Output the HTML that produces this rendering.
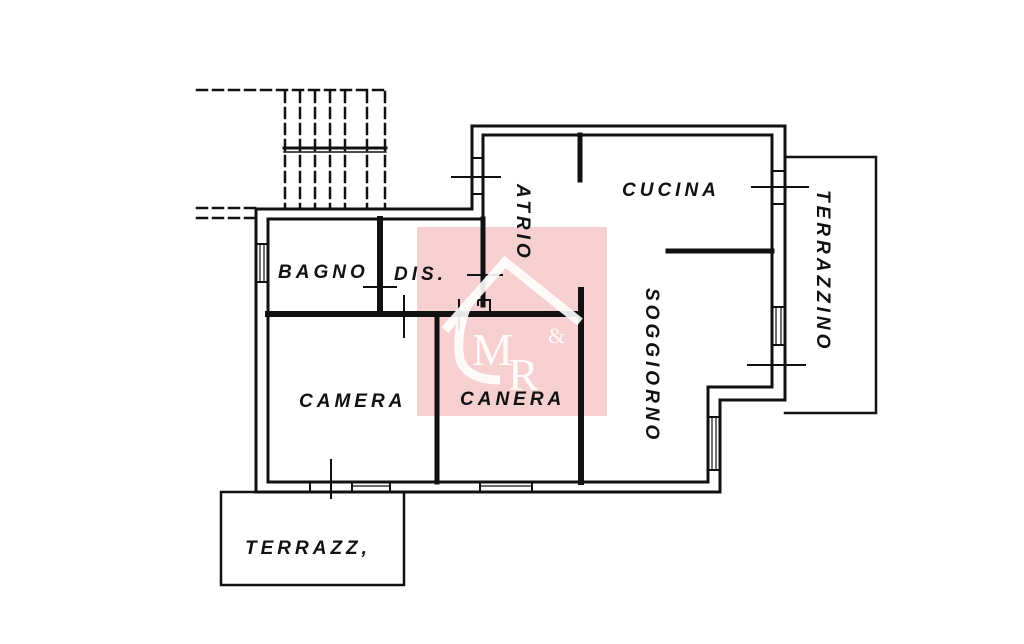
<!DOCTYPE html>
<html><head><meta charset="utf-8"><style>
html,body{margin:0;padding:0;background:#fff;width:1024px;height:644px;overflow:hidden}
svg{display:block}
.t{font-family:"Liberation Sans",sans-serif;font-weight:bold;font-style:italic;fill:#111;font-size:19px;letter-spacing:4px}
</style></head><body>
<svg width="1024" height="644" viewBox="0 0 1024 644" xmlns="http://www.w3.org/2000/svg">
<rect width="1024" height="644" fill="#fff"/>
<!-- watermark -->
<rect x="417" y="227" width="190" height="189" fill="#f6cfd1"/>
<g stroke="#111" fill="none" stroke-linecap="square">
<!-- outer walls -->
<path d="M256,492 L256,209 L472,209 L472,126 L785,126 L785,400 L720,400 L720,492 Z" stroke-width="3"/>
<path d="M268,482 L268,219 L483,219 L483,135 L772,135 L772,387 L708,387 L708,482 Z" stroke-width="3"/>
<!-- interior walls -->
<line x1="380" y1="219" x2="380" y2="313" stroke-width="6"/>
<line x1="268" y1="314" x2="581" y2="314" stroke-width="6"/>
<line x1="483" y1="219" x2="483" y2="305" stroke-width="5"/>
<line x1="437" y1="314" x2="437" y2="482" stroke-width="5"/>
<line x1="581" y1="290" x2="581" y2="482" stroke-width="6"/>
<line x1="580" y1="135" x2="580" y2="180" stroke-width="5"/>
<line x1="668" y1="251" x2="772" y2="251" stroke-width="5"/>
<path d="M478,305 L478,300 L490,300 L490,312" stroke-width="2"/>
<!-- terraces -->
<path d="M785,157 L876,157 L876,413 L785,413" stroke-width="2.5"/>
<rect x="221" y="492" width="183" height="93" stroke-width="2.5"/>
<!-- dashed stairs -->
<g stroke-dasharray="10,6" stroke-width="2.5">
<line x1="197" y1="90" x2="385" y2="90"/>
<line x1="197" y1="208" x2="256" y2="208"/>
<line x1="197" y1="218" x2="256" y2="218"/>
<line x1="285" y1="92" x2="285" y2="208"/>
<line x1="300" y1="92" x2="300" y2="208"/>
<line x1="315" y1="92" x2="315" y2="208"/>
<line x1="330" y1="92" x2="330" y2="208"/>
<line x1="345" y1="92" x2="345" y2="208"/>
<line x1="367" y1="92" x2="367" y2="208"/>
<line x1="385" y1="92" x2="385" y2="208"/>
</g>
<line x1="284" y1="148" x2="386" y2="148" stroke-width="3" stroke-dasharray="12,3"/>
<line x1="284" y1="152" x2="386" y2="152" stroke-width="1.5"/>
<!-- door ticks -->
<g stroke-width="2">
<line x1="452" y1="177" x2="500" y2="177"/>
<line x1="472" y1="158" x2="483" y2="158"/><line x1="472" y1="194" x2="483" y2="194"/>
<line x1="364" y1="287" x2="396" y2="287"/>
<line x1="468" y1="275" x2="502" y2="275"/>
<line x1="404" y1="296" x2="404" y2="337"/>
<line x1="459" y1="300" x2="459" y2="330"/>
<line x1="331" y1="460" x2="331" y2="498"/>
<line x1="752" y1="187" x2="808" y2="187"/>
<line x1="772" y1="171" x2="785" y2="171"/><line x1="772" y1="204" x2="785" y2="204"/>
<line x1="748" y1="365" x2="805" y2="365"/>
<line x1="772" y1="307" x2="785" y2="307"/><line x1="772" y1="345" x2="785" y2="345"/>
<line x1="708" y1="417" x2="720" y2="417"/><line x1="708" y1="470" x2="720" y2="470"/>
<line x1="256" y1="244" x2="268" y2="244"/><line x1="256" y1="282" x2="268" y2="282"/>
<line x1="310" y1="482" x2="310" y2="492"/><line x1="352" y1="482" x2="352" y2="492"/><line x1="390" y1="482" x2="390" y2="492"/>
<line x1="480" y1="482" x2="480" y2="492"/><line x1="532" y1="482" x2="532" y2="492"/>
</g>
<g stroke-width="1.2">
<line x1="776" y1="307" x2="776" y2="345"/><line x1="781" y1="307" x2="781" y2="345"/>
<line x1="712" y1="417" x2="712" y2="470"/><line x1="716" y1="417" x2="716" y2="470"/>
<line x1="260" y1="244" x2="260" y2="282"/><line x1="264" y1="244" x2="264" y2="282"/>
<line x1="352" y1="486" x2="390" y2="486"/><line x1="480" y1="486" x2="532" y2="486"/>
</g>
</g>
<!-- logo -->
<g stroke="#fff" fill="none" stroke-width="9" opacity="0.9">
<path d="M445,330 L505,262 L580,322"/>
<path d="M470,300 Q455,330 460,360 Q468,380 500,380"/>
</g>
<g font-family="Liberation Serif,serif" fill="#fff" opacity="0.9">
<text x="472" y="365" font-size="46">M</text>
<text x="508" y="390" font-size="46">R</text>
<text x="548" y="343" font-size="22">&amp;</text>
</g>
<!-- labels -->
<text class="t" x="622" y="196">CUCINA</text>
<text class="t" x="278" y="278" font-size="17" letter-spacing="1">BAGNO</text>
<text class="t" x="394" y="280" font-size="17" letter-spacing="2">DIS.</text>
<text class="t" x="299" y="407">CAMERA</text>
<text class="t" x="460" y="405">CANERA</text>
<text class="t" x="245" y="554" letter-spacing="3">TERRAZZ,</text>
<text class="t" transform="translate(517,184) rotate(90)" letter-spacing="5">ATRIO</text>
<text class="t" transform="translate(646,288) rotate(90)" letter-spacing="4">SOGGIORNO</text>
<text class="t" transform="translate(817,190) rotate(90)" letter-spacing="3">TERRAZZINO</text>
</svg>
</body></html>
